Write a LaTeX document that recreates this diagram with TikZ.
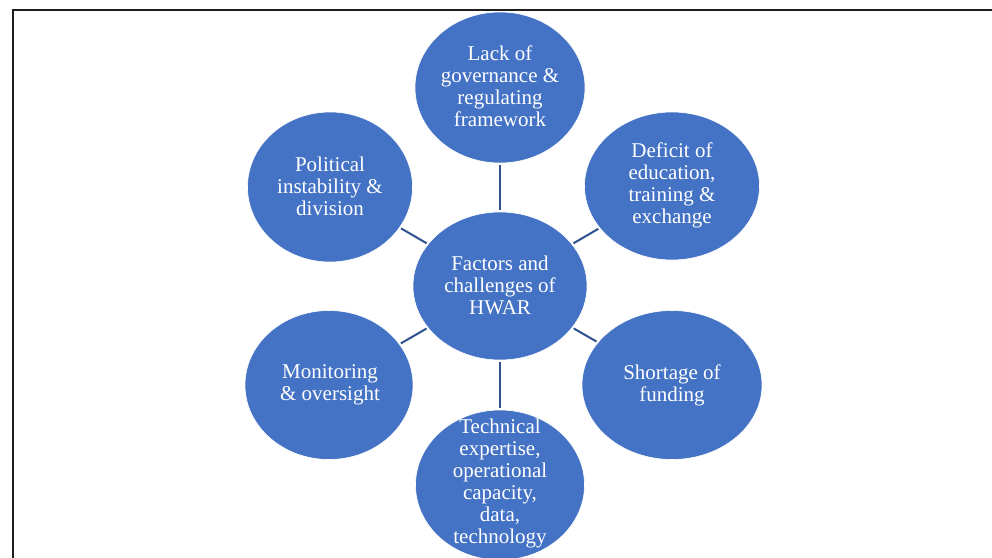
\documentclass[tikz,border=0pt]{standalone}
\usepackage{fontspec}
\setmainfont{Liberation Serif}
\usetikzlibrary{shapes.geometric}
\definecolor{blobfill}{HTML}{4472C4}
\definecolor{linkcol}{HTML}{2F528F}
\definecolor{framecol}{HTML}{1E1E1E}
\tikzset{
  blob/.style={ellipse, fill=blobfill, draw=white, line width=0.6pt, inner sep=0pt},
  lbl/.style={text=white, align=center, font=\fontsize{21}{22}\selectfont, inner sep=0pt},
  link/.style={draw=linkcol, line width=2pt, shorten <=1.5pt, shorten >=1.5pt},
  frame/.style={draw=framecol, line width=2pt}
}
\begin{document}
\begin{tikzpicture}[x=1pt,y=1pt]
\useasboundingbox (0,0) rectangle (992,-557);
\begin{scope}
\clip (0,0) rectangle (992,-557);
% frame (left and top edges)
\coordinate (fl) at (13,-600);
\coordinate (fc) at (13,-10);
\coordinate (fr) at (1000,-10);
\draw[frame] (fl) -- (fc) -- (fr);
% ellipses
\node[blob, minimum width=174pt, minimum height=148pt] (c)  at (500,-286) {};
\node[blob, minimum width=170pt, minimum height=151pt] (t)  at (500,-87.5) {};
\node[blob, minimum width=165pt, minimum height=150pt] (tl) at (330,-187) {};
\node[blob, minimum width=175pt, minimum height=148pt] (tr) at (672,-186) {};
\node[blob, minimum width=168pt, minimum height=149pt] (bl) at (329,-385) {};
\node[blob, minimum width=180pt, minimum height=149pt] (br) at (672,-385) {};
\node[blob, minimum width=169pt, minimum height=150pt] (b)  at (500,-485) {};
% connectors
\draw[link] (c) -- (t);
\draw[link] (c) -- (tl);
\draw[link] (c) -- (tr);
\draw[link] (c) -- (bl);
\draw[link] (c) -- (br);
\draw[link] (c) -- (b);
% labels
\node[lbl] (lc)  at (500,-285) {Factors and\\challenges of\\HWAR};
\node[lbl] (lt)  at (500,-86.5) {Lack of\\governance \&\\regulating\\framework};
\node[lbl] (ltl) at (330,-186) {Political\\instability \&\\division};
\node[lbl] (ltr) at (672,-185.5) {Deficit of\\education,\\training \&\\exchange};
\node[lbl] (lbl) at (330,-385) {Monitoring\\\& oversight};
\node[lbl] (lbr) at (672,-385) {Shortage of\\funding};
\node[lbl] (lb)  at (500,-483.5) {Technical\\expertise,\\operational\\capacity,\\data,\\technology};
\end{scope}
\end{tikzpicture}
\end{document}
